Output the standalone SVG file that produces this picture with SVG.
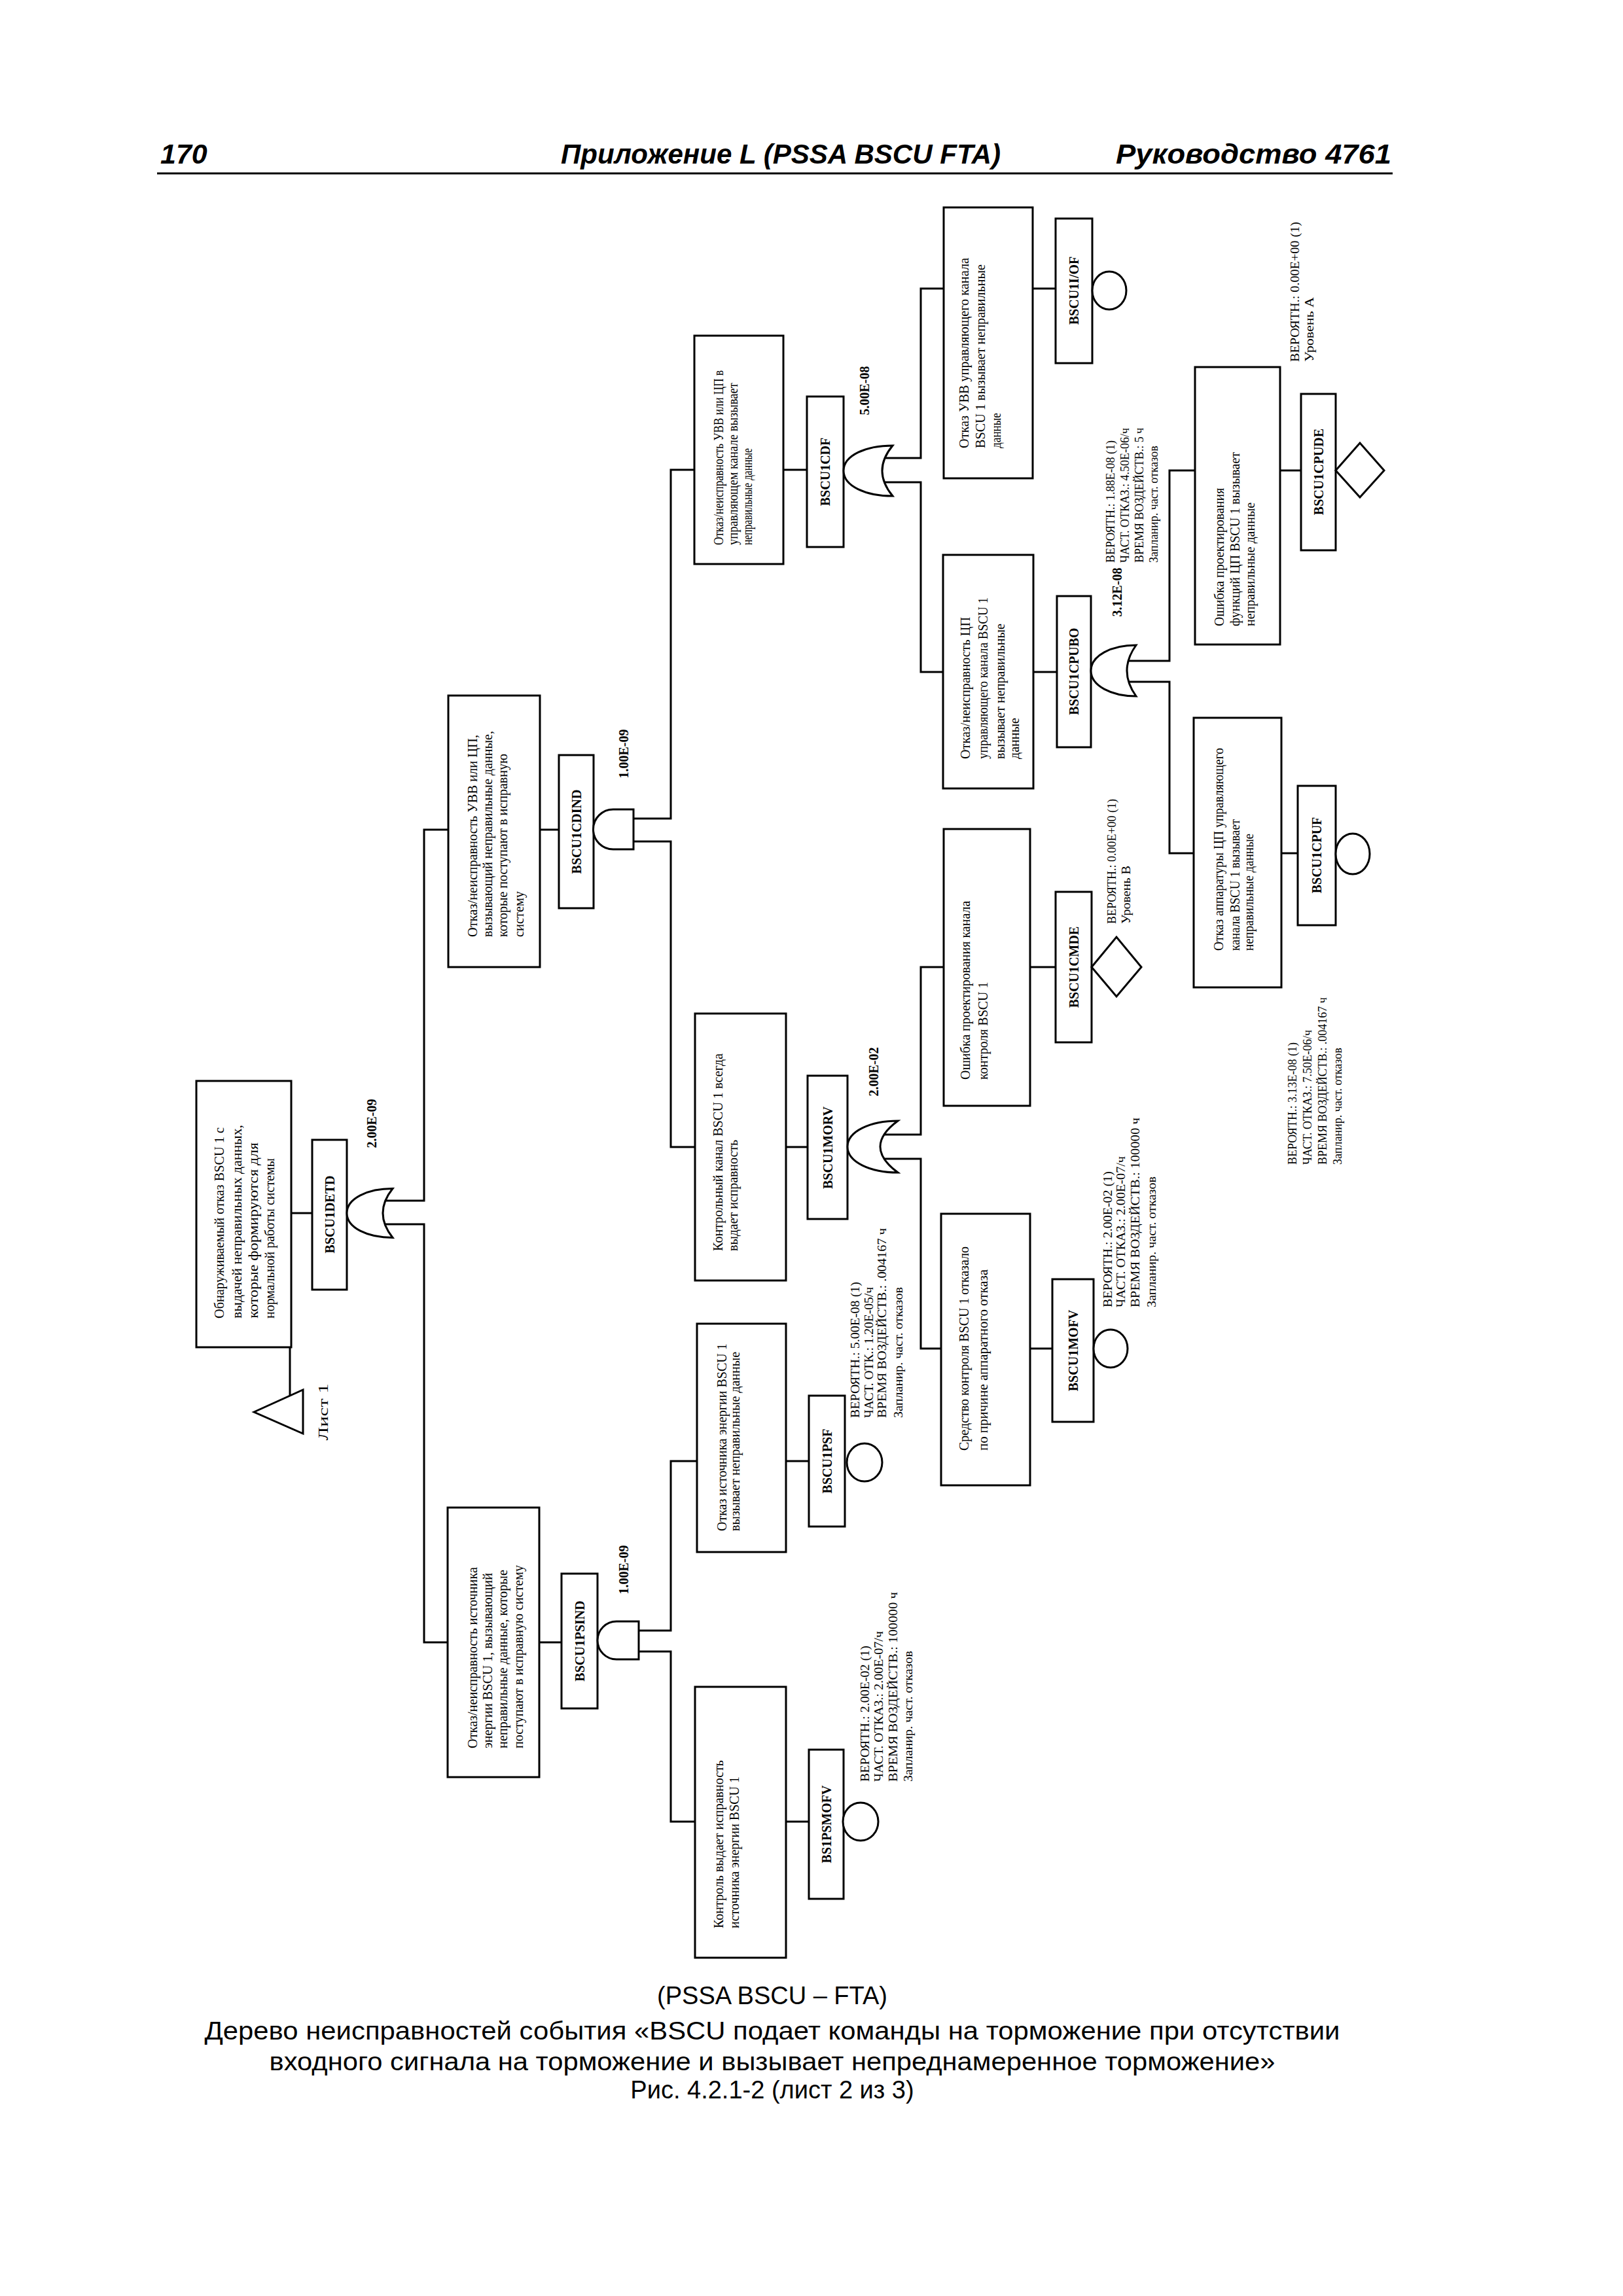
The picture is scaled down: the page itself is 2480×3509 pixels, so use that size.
<svg xmlns="http://www.w3.org/2000/svg" width="2480" height="3509" viewBox="0 0 2480 3509">
<style>
.b{fill:#fff;stroke:#000;stroke-width:3}
.c{fill:none;stroke:#000;stroke-width:3}
.t{font-family:"Liberation Serif",serif;font-size:20px}
.g{font-family:"Liberation Serif",serif;font-size:20px;font-weight:bold;text-anchor:middle}
.s{font-family:"Liberation Serif",serif;font-size:18px}
.h{font-family:"Liberation Sans",Arial,sans-serif;font-size:43px;font-weight:bold;font-style:italic}
.cap{font-family:"Liberation Sans",Arial,sans-serif;font-size:38px;text-anchor:middle}
</style>
<rect width="2480" height="3509" fill="#fff"/>
<g id="header">
<text class="h" x="245" y="250">170</text>
<text class="h" x="857" y="250" textLength="672" lengthAdjust="spacingAndGlyphs">Приложение L (PSSA BSCU FTA)</text>
<text class="h" x="1705" y="250" textLength="421" lengthAdjust="spacingAndGlyphs">Руководство 4761</text>
<line class="c" x1="240" y1="265" x2="2128" y2="265"/>
</g>
<g id="connectors">
<path class="c" d="M445,1854H477"/>
<path class="c" d="M443,2059V2133"/>
<path class="c" d="M585,1835H648V1268H685"/>
<path class="c" d="M585,1871H648V2510H684"/>
<path class="c" d="M825,1268H854"/>
<path class="c" d="M968,1251H1025V718H1061"/>
<path class="c" d="M968,1286H1025V1753H1062"/>
<path class="c" d="M824,2510H858"/>
<path class="c" d="M976,2492H1025V2233H1065"/>
<path class="c" d="M976,2524H1025V2784H1062"/>
<path class="c" d="M1197,718H1233"/>
<path class="c" d="M1348,700H1407V441H1442"/>
<path class="c" d="M1348,737H1407V1027H1441"/>
<path class="c" d="M1578,441H1613"/>
<path class="c" d="M1579,1027H1615"/>
<path class="c" d="M1722,1010H1787V719H1826"/>
<path class="c" d="M1722,1042H1787V1304H1824"/>
<path class="c" d="M1956,719H1988"/>
<path class="c" d="M1958,1304H1983"/>
<path class="c" d="M1201,1753H1234"/>
<path class="c" d="M1345,1734H1407V1478H1442"/>
<path class="c" d="M1345,1771H1407V2061H1438"/>
<path class="c" d="M1574,1478H1613"/>
<path class="c" d="M1574,2061H1608"/>
<path class="c" d="M1201,2233H1236"/>
<path class="c" d="M1201,2784H1236"/>
</g>
<g id="top">
<rect class="b" x="300" y="1652" width="145" height="407"/>
<text class="t" font-size="21" transform="translate(342,2015) rotate(-90)" textLength="292" lengthAdjust="spacingAndGlyphs">Обнаруживаемый отказ BSCU 1 с</text>
<text class="t" font-size="21" transform="translate(369,2015) rotate(-90)" textLength="296" lengthAdjust="spacingAndGlyphs">выдачей неправильных данных,</text>
<text class="t" font-size="21" transform="translate(394,2015) rotate(-90)" textLength="269" lengthAdjust="spacingAndGlyphs">которые формируются для</text>
<text class="t" font-size="21" transform="translate(419,2015) rotate(-90)" textLength="245" lengthAdjust="spacingAndGlyphs">нормальной работы системы</text>
</g>
<g id="sheet1">
<polygon class="b" points="388,2158 463,2124 463,2191"/>
<text class="t" font-size="24" text-anchor="middle" transform="translate(501,2158) rotate(-90)" textLength="87" lengthAdjust="spacingAndGlyphs">Лист 1</text>
</g>
<g id="BSCU1DETD">
<rect class="b" x="477" y="1742" width="53" height="229"/>
<text class="g" transform="translate(511,1856) rotate(-90)">BSCU1DETD</text>
<path class="b" d="M600,1816.5 C561.5,1816.5 530,1831.5 530,1854 C530,1876.5 561.5,1891.5 600,1891.5 Q570,1854 600,1816.5 Z"/>
<text class="g" transform="translate(575,1717) rotate(-90)">2.00E-09</text>
</g>
<g id="BSCU1CDIND">
<rect class="b" x="685" y="1063" width="140" height="415"/>
<text class="t" transform="translate(729,1432) rotate(-90)" textLength="309" lengthAdjust="spacingAndGlyphs">Отказ/неисправность УВВ или ЦП,</text>
<text class="t" transform="translate(752,1432) rotate(-90)" textLength="315" lengthAdjust="spacingAndGlyphs">вызывающий неправильные данные,</text>
<text class="t" transform="translate(775,1432) rotate(-90)" textLength="280" lengthAdjust="spacingAndGlyphs">которые поступают в исправную</text>
<text class="t" transform="translate(800,1432) rotate(-90)" textLength="70" lengthAdjust="spacingAndGlyphs">систему</text>
<rect class="b" x="854" y="1154" width="53" height="234"/>
<text class="g" transform="translate(888,1271) rotate(-90)">BSCU1CDIND</text>
<path class="b" d="M968,1237H937A30.5,30.5 0 0 0 937,1298H968Z"/>
<text class="g" transform="translate(960,1152) rotate(-90)">1.00E-09</text>
</g>
<g id="BSCU1PSIND">
<rect class="b" x="684" y="2304" width="140" height="412"/>
<text class="t" transform="translate(729,2672) rotate(-90)" textLength="277" lengthAdjust="spacingAndGlyphs">Отказ/неисправность источника</text>
<text class="t" transform="translate(752,2672) rotate(-90)" textLength="268" lengthAdjust="spacingAndGlyphs">энергии BSCU 1, вызывающий</text>
<text class="t" transform="translate(775,2672) rotate(-90)" textLength="273" lengthAdjust="spacingAndGlyphs">неправильные данные, которые</text>
<text class="t" transform="translate(799,2672) rotate(-90)" textLength="280" lengthAdjust="spacingAndGlyphs">поступают в исправную систему</text>
<rect class="b" x="858" y="2405" width="55" height="206"/>
<text class="g" transform="translate(893,2508) rotate(-90)">BSCU1PSIND</text>
<path class="b" d="M976,2478H942A29,29 0 0 0 942,2536H976Z"/>
<text class="g" transform="translate(960,2399) rotate(-90)">1.00E-09</text>
</g>
<g id="BSCU1CDF">
<rect class="b" x="1061" y="513" width="136" height="349"/>
<text class="t" font-size="19" transform="translate(1105,833) rotate(-90)" textLength="267" lengthAdjust="spacingAndGlyphs">Отказ/неисправность УВВ или ЦП в</text>
<text class="t" font-size="19" transform="translate(1127,833) rotate(-90)" textLength="248" lengthAdjust="spacingAndGlyphs">управляющем канале вызывает</text>
<text class="t" font-size="19" transform="translate(1149,833) rotate(-90)" textLength="148" lengthAdjust="spacingAndGlyphs">неправильные данные</text>
<rect class="b" x="1233" y="606" width="56" height="230"/>
<text class="g" transform="translate(1268,721) rotate(-90)">BSCU1CDF</text>
<path class="b" d="M1364,681 C1323,681 1289,696 1289,719.5 C1289,743 1323,758 1364,758 Q1332,719.5 1364,681 Z"/>
<text class="g" transform="translate(1328,597) rotate(-90)">5.00E-08</text>
</g>
<g id="BSCU1IOF">
<rect class="b" x="1442" y="317" width="136" height="414"/>
<text class="t" transform="translate(1480,685) rotate(-90)" textLength="291" lengthAdjust="spacingAndGlyphs">Отказ УВВ управляющего канала</text>
<text class="t" transform="translate(1505,685) rotate(-90)" textLength="281" lengthAdjust="spacingAndGlyphs">BSCU 1 вызывает неправильные</text>
<text class="t" transform="translate(1529,685) rotate(-90)" textLength="54" lengthAdjust="spacingAndGlyphs">данные</text>
<rect class="b" x="1613" y="334" width="56" height="221"/>
<text class="g" transform="translate(1648,444) rotate(-90)">BSCU1I/OF</text>
<ellipse class="b" cx="1695" cy="444" rx="26" ry="29"/>
<text class="s" font-size="21" transform="translate(1703,860) rotate(-90)">ВЕРОЯТН.: 1.88E-08 (1)</text>
<text class="s" font-size="21" transform="translate(1725,860) rotate(-90)">ЧАСТ. ОТКАЗ.: 4.50E-06/ч</text>
<text class="s" font-size="21" transform="translate(1747,860) rotate(-90)">ВРЕМЯ ВОЗДЕЙСТВ.: 5 ч</text>
<text class="s" font-size="21" transform="translate(1769,860) rotate(-90)">Запланир. част. отказов</text>
</g>
<g id="BSCU1CPUBO">
<rect class="b" x="1441" y="848" width="138" height="357"/>
<text class="t" transform="translate(1482,1160) rotate(-90)" textLength="217" lengthAdjust="spacingAndGlyphs">Отказ/неисправность ЦП</text>
<text class="t" transform="translate(1509,1160) rotate(-90)" textLength="247" lengthAdjust="spacingAndGlyphs">управляющего канала BSCU 1</text>
<text class="t" transform="translate(1535,1160) rotate(-90)" textLength="207" lengthAdjust="spacingAndGlyphs">вызывает неправильные</text>
<text class="t" transform="translate(1557,1160) rotate(-90)" textLength="63" lengthAdjust="spacingAndGlyphs">данные</text>
<rect class="b" x="1615" y="911" width="52" height="231"/>
<text class="g" transform="translate(1648,1026) rotate(-90)">BSCU1CPUBO</text>
<path class="b" d="M1736,986 C1698,986 1667,1002 1667,1025 C1667,1048 1698,1064 1736,1064 Q1708,1025 1736,986 Z"/>
<text class="g" transform="translate(1714,905) rotate(-90)">3.12E-08</text>
</g>
<g id="BSCU1CPUDE">
<rect class="b" x="1826" y="561" width="130" height="424"/>
<text class="t" font-size="21" transform="translate(1870,957) rotate(-90)">Ошибка проектирования</text>
<text class="t" font-size="21" transform="translate(1894,957) rotate(-90)">функций ЦП BSCU 1 вызывает</text>
<text class="t" font-size="21" transform="translate(1917,957) rotate(-90)">неправильные данные</text>
<rect class="b" x="1988" y="602" width="53" height="239"/>
<text class="g" transform="translate(2022,721) rotate(-90)">BSCU1CPUDE</text>
<polygon class="b" points="2041,719 2078,677 2115,719 2078,760"/>
<text class="s" transform="translate(1985,553) rotate(-90)" textLength="214" lengthAdjust="spacingAndGlyphs">ВЕРОЯТН.: 0.00E+00 (1)</text>
<text class="s" transform="translate(2007,553) rotate(-90)" textLength="99" lengthAdjust="spacingAndGlyphs">Уровень A</text>
</g>
<g id="BSCU1CPUF">
<rect class="b" x="1824" y="1097" width="134" height="412"/>
<text class="t" font-size="19" transform="translate(1869,1453) rotate(-90)" textLength="310" lengthAdjust="spacingAndGlyphs">Отказ аппаратуры ЦП управляющего</text>
<text class="t" font-size="19" transform="translate(1894,1453) rotate(-90)" textLength="201" lengthAdjust="spacingAndGlyphs">канала BSCU 1 вызывает</text>
<text class="t" font-size="19" transform="translate(1915,1453) rotate(-90)" textLength="179" lengthAdjust="spacingAndGlyphs">неправильные данные</text>
<rect class="b" x="1983" y="1201" width="58" height="213"/>
<text class="g" transform="translate(2019,1307) rotate(-90)">BSCU1CPUF</text>
<ellipse class="b" cx="2067" cy="1305" rx="26" ry="31"/>
<text class="s" transform="translate(1981,1780) rotate(-90)">ВЕРОЯТН.: 3.13E-08 (1)</text>
<text class="s" transform="translate(2004,1780) rotate(-90)">ЧАСТ. ОТКАЗ.: 7.50E-06/ч</text>
<text class="s" transform="translate(2027,1780) rotate(-90)">ВРЕМЯ ВОЗДЕЙСТВ.: .004167 ч</text>
<text class="s" transform="translate(2050,1780) rotate(-90)">Запланир. част. отказов</text>
</g>
<g id="BSCU1CMDE">
<rect class="b" x="1442" y="1267" width="132" height="423"/>
<text class="t" transform="translate(1482,1650) rotate(-90)">Ошибка проектирования канала</text>
<text class="t" transform="translate(1509,1650) rotate(-90)">контроля BSCU 1</text>
<rect class="b" x="1613" y="1363" width="55" height="230"/>
<text class="g" transform="translate(1648,1478) rotate(-90)">BSCU1CMDE</text>
<polygon class="b" points="1668,1478 1706,1432 1744,1478 1706,1523"/>
<text class="s" transform="translate(1705,1412) rotate(-90)">ВЕРОЯТН.: 0.00E+00 (1)</text>
<text class="s" transform="translate(1727,1412) rotate(-90)" textLength="89" lengthAdjust="spacingAndGlyphs">Уровень B</text>
</g>
<g id="BSCU1MORV">
<rect class="b" x="1062" y="1549" width="139" height="408"/>
<text class="t" transform="translate(1104,1912) rotate(-90)" textLength="302" lengthAdjust="spacingAndGlyphs">Контрольный канал BSCU 1 всегда</text>
<text class="t" transform="translate(1127,1912) rotate(-90)" textLength="170" lengthAdjust="spacingAndGlyphs">выдает исправность</text>
<rect class="b" x="1234" y="1644" width="61" height="219"/>
<text class="g" transform="translate(1272,1754) rotate(-90)">BSCU1MORV</text>
<path class="b" d="M1372,1713 C1330,1713 1295,1729 1295,1752.5 C1295,1776 1330,1792 1372,1792 Q1318,1752.5 1372,1713 Z"/>
<text class="g" transform="translate(1342,1638) rotate(-90)">2.00E-02</text>
</g>
<g id="BSCU1MOFV">
<rect class="b" x="1438" y="1855" width="136" height="415"/>
<text class="t" transform="translate(1480,2217) rotate(-90)" textLength="312" lengthAdjust="spacingAndGlyphs">Средство контроля BSCU 1 отказало</text>
<text class="t" transform="translate(1509,2217) rotate(-90)" textLength="277" lengthAdjust="spacingAndGlyphs">по причине аппаратного отказа</text>
<rect class="b" x="1608" y="1955" width="63" height="218"/>
<text class="g" transform="translate(1647,2064) rotate(-90)">BSCU1MOFV</text>
<ellipse class="b" cx="1697" cy="2061" rx="26" ry="29"/>
<text class="s" transform="translate(1699,1998) rotate(-90)" textLength="208" lengthAdjust="spacingAndGlyphs">ВЕРОЯТН.: 2.00E-02 (1)</text>
<text class="s" transform="translate(1719,1998) rotate(-90)" textLength="231" lengthAdjust="spacingAndGlyphs">ЧАСТ. ОТКАЗ.: 2.00E-07/ч</text>
<text class="s" transform="translate(1741,1998) rotate(-90)" textLength="290" lengthAdjust="spacingAndGlyphs">ВРЕМЯ ВОЗДЕЙСТВ.: 100000 ч</text>
<text class="s" transform="translate(1766,1998) rotate(-90)" textLength="200" lengthAdjust="spacingAndGlyphs">Запланир. част. отказов</text>
</g>
<g id="BSCU1PSF">
<rect class="b" x="1065" y="2023" width="136" height="349"/>
<text class="t" transform="translate(1110,2340) rotate(-90)">Отказ источника энергии BSCU 1</text>
<text class="t" transform="translate(1130,2340) rotate(-90)">вызывает неправильные данные</text>
<rect class="b" x="1236" y="2133" width="55" height="200"/>
<text class="g" transform="translate(1271,2233) rotate(-90)">BSCU1PSF</text>
<ellipse class="b" cx="1321" cy="2235" rx="27" ry="29"/>
<text class="s" transform="translate(1313,2167) rotate(-90)" textLength="208" lengthAdjust="spacingAndGlyphs">ВЕРОЯТН.: 5.00E-08 (1)</text>
<text class="s" transform="translate(1334,2167) rotate(-90)" textLength="200" lengthAdjust="spacingAndGlyphs">ЧАСТ. ОТК.: 1.20E-05/ч</text>
<text class="s" transform="translate(1354,2167) rotate(-90)" textLength="290" lengthAdjust="spacingAndGlyphs">ВРЕМЯ ВОЗДЕЙСТВ.: .004167 ч</text>
<text class="s" transform="translate(1379,2167) rotate(-90)" textLength="200" lengthAdjust="spacingAndGlyphs">Запланир. част. отказов</text>
</g>
<g id="BS1PSMOFV">
<rect class="b" x="1062" y="2578" width="139" height="414"/>
<text class="t" transform="translate(1105,2947) rotate(-90)" textLength="257" lengthAdjust="spacingAndGlyphs">Контроль выдает исправность</text>
<text class="t" transform="translate(1129,2947) rotate(-90)" textLength="232" lengthAdjust="spacingAndGlyphs">источника энергии BSCU 1</text>
<rect class="b" x="1236" y="2674" width="53" height="228"/>
<text class="g" transform="translate(1270,2788) rotate(-90)">BS1PSMOFV</text>
<ellipse class="b" cx="1315" cy="2784" rx="27" ry="29"/>
<text class="s" transform="translate(1328,2723) rotate(-90)" textLength="208" lengthAdjust="spacingAndGlyphs">ВЕРОЯТН.: 2.00E-02 (1)</text>
<text class="s" transform="translate(1349,2723) rotate(-90)" textLength="230" lengthAdjust="spacingAndGlyphs">ЧАСТ. ОТКАЗ.: 2.00E-07/ч</text>
<text class="s" transform="translate(1371,2723) rotate(-90)" textLength="290" lengthAdjust="spacingAndGlyphs">ВРЕМЯ ВОЗДЕЙСТВ.: 100000 ч</text>
<text class="s" transform="translate(1394,2723) rotate(-90)" textLength="200" lengthAdjust="spacingAndGlyphs">Запланир. част. отказов</text>
</g>
<g id="caption">
<text class="cap" x="1180" y="3063">(PSSA BSCU – FTA)</text>
<text class="cap" x="1180" y="3117" textLength="1735" lengthAdjust="spacingAndGlyphs">Дерево неисправностей события «BSCU подает команды на торможение при отсутствии</text>
<text class="cap" x="1180" y="3164" textLength="1537" lengthAdjust="spacingAndGlyphs">входного сигнала на торможение и вызывает непреднамеренное торможение»</text>
<text class="cap" x="1180" y="3207">Рис. 4.2.1-2 (лист 2 из 3)</text>
</g>
</svg>
